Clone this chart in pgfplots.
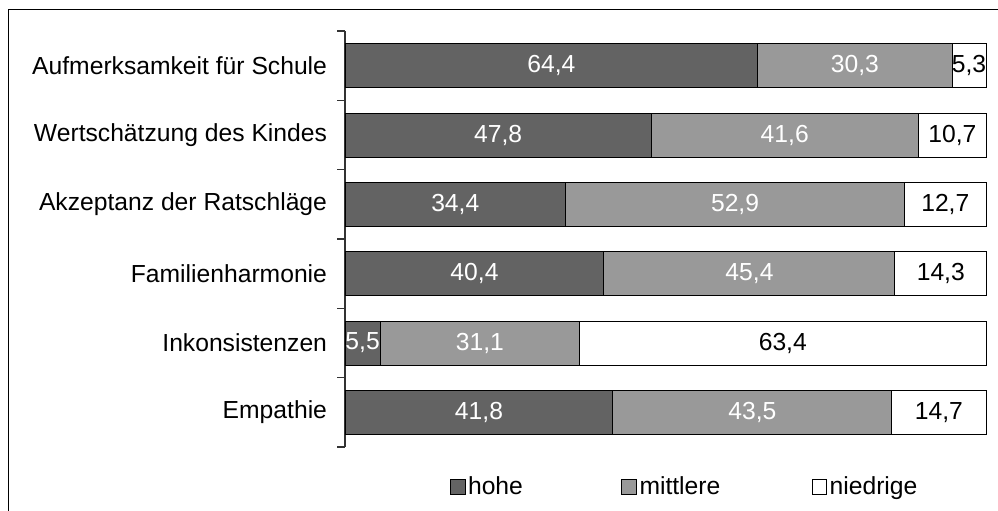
\documentclass[border=0pt]{standalone}
\usepackage{pgfplots}
\pgfplotsset{compat=1.18}
\usepackage{fontspec}
\setmainfont{Liberation Sans}
\definecolor{dark}{HTML}{636363}
\definecolor{mid}{HTML}{999999}
\begin{document}
\begin{tikzpicture}[font=\fontsize{18.5}{22}\selectfont]
\useasboundingbox (0,0) rectangle (748.5pt,382.5pt);
\draw[line width=0.8pt] (6.4pt,-5pt) -- (6.4pt,375.4pt) -- (760pt,375.4pt);
\begin{axis}[
  at={(258.75pt,47.25pt)}, anchor=south west,
  scale only axis, width=480.75pt, height=312pt,
  xbar stacked, bar width=33pt,
  xmin=0, xmax=100, ymin=-0.5, ymax=5.5, y dir=reverse,
  clip=false,
  axis x line=none, axis y line=left,
  y axis line style={-, line width=0.8pt, black!80},
  ytick={0,...,5},
  yticklabels={Aufmerksamkeit für Schule, Wertschätzung des Kindes, Akzeptanz der Ratschläge, Familienharmonie, Inkonsistenzen, Empathie},
  minor ytick={-0.5,0.5,...,5.5},
  major tick length=0pt, minor tick length=6pt, tick align=outside,
  minor tick style={line width=0.8pt, black!80},
  yticklabel style={xshift=-10pt},
  nodes near coords={\pgfmathprintnumber[use comma,fixed,fixed zerofill,precision=1,assume math mode=true]{\rawx}},
  visualization depends on={rawx \as \rawx},
  every node near coord/.append style={anchor=center},
  legend columns=3,
  legend image code/.code={\draw[#1,draw=black,line width=0.6pt] (0pt,-5.5pt) rectangle (11pt,5.5pt);},
  legend style={draw=none, fill=none, at={(axis description cs:0.157,-0.096)}, anchor=west},
]
\addplot[fill=dark, draw=black, line width=0.75pt, every node near coord/.append style={text=white}] coordinates {(64.4,0) (47.8,1) (34.4,2) (40.4,3) (5.5,4) (41.8,5)};
\addlegendentry{\makebox[113pt][l]{hohe}}
\addplot[fill=mid, draw=black, line width=0.75pt, every node near coord/.append style={text=white}] coordinates {(30.3,0) (41.6,1) (52.9,2) (45.4,3) (31.1,4) (43.5,5)};
\addlegendentry{\makebox[127pt][l]{mittlere}}
\addplot[fill=white, draw=black, line width=0.75pt, every node near coord/.append style={text=black}] coordinates {(5.3,0) (10.7,1) (12.7,2) (14.3,3) (63.4,4) (14.7,5)};
\addlegendentry{niedrige}
\end{axis}
\end{tikzpicture}
\end{document}
